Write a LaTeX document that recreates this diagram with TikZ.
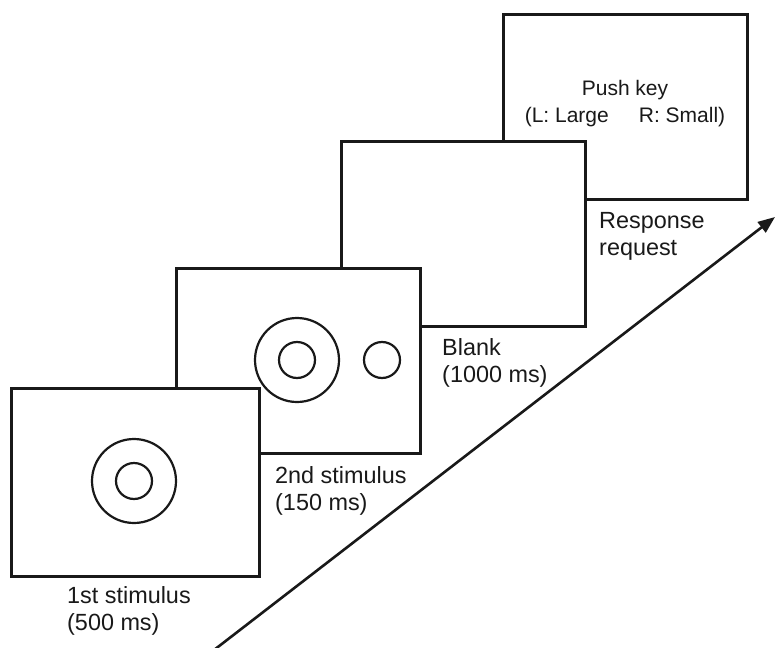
\documentclass[tikz,border=0pt]{standalone}
\usepackage{fontspec}
\setmainfont{Liberation Sans}
\usetikzlibrary{arrows.meta}
\newcommand\labtwo[2]{\vtop{\baselineskip=27.5pt\hbox{#1}\hbox{#2}}}
\newcommand\centertwo[2]{\vtop{\baselineskip=27pt\halign{\hfil##\hfil\cr#1\cr#2\cr}}}
\begin{document}
\begin{tikzpicture}[x=1pt,y=-1pt,
  frame/.style={draw=black!90, line width=2.6pt, fill=white, rectangle, inner sep=0pt,
    minimum width=244pt, minimum height=185pt, anchor=north west},
  ring/.style={draw=black!90, line width=2.2pt, circle, inner sep=0pt},
  lab/.style={anchor=base west, inner sep=0pt, text=black!90, font=\fontsize{23.4}{27.5}\selectfont},
  keytext/.style={anchor=base, inner sep=0pt, text=black!90, font=\fontsize{21}{27}\selectfont}]
\useasboundingbox (0,0) rectangle (775,647);
% frames, back to front
\node[frame] (f4) at (502,13) {};
\node[frame] (f3) at (340,140) {};
\node[frame] (f2) at (175,267) {};
\node[frame, minimum width=248pt, minimum height=188pt] (f1) at (10,387) {};
% stimuli
\node[ring, minimum size=84pt] (c1o) at (134,481) {};
\node[ring, minimum size=36pt] (c1i) at (134,481) {};
\node[ring, minimum size=84pt] (c2o) at (297,360) {};
\node[ring, minimum size=36pt] (c2i) at (297,360) {};
\node[ring, minimum size=36pt] (c2s) at (382,360) {};
% frame text
\node[keytext] (key) at (625,96) {\centertwo{Push key}{(L: Large\hspace{30pt}R: Small)}};
% labels
\node[lab] (l1) at (67,603) {\labtwo{1st stimulus}{(500 ms)}};
\node[lab] (l2) at (275,483) {\labtwo{2nd stimulus}{(150 ms)}};
\node[lab] (l3) at (442,355) {\labtwo{Blank}{(1000 ms)}};
\node[lab] (l4) at (599,228) {\labtwo{Response}{request}};
% time arrow
\coordinate (a0) at (214,650);
\coordinate (a1) at (775,217);
\draw[black!90, line width=2.6pt, -{Triangle[length=17pt,width=13pt]}] (a0) -- (a1);
\end{tikzpicture}
\end{document}
